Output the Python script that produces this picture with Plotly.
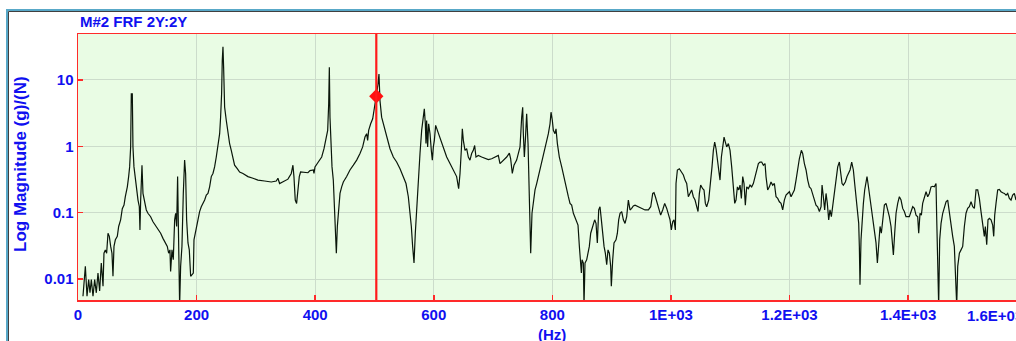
import plotly.graph_objects as go

# ---------------- data ----------------
freq_hz = [
    8.4, 10.1, 12.4, 15.2, 18.0, 20.2, 22.5, 25.3, 28.1, 30.9, 33.7, 36.5, 39.3, 42.2, 43.8, 46.1, 48.3,
    50.6, 52.8, 55.1, 57.3, 59.0, 60.7, 63.0, 66.3, 68.6, 71.9, 74.7, 77.6, 79.8, 83.2, 85.4, 87.1,
    88.8, 89.9, 91.6, 92.7, 94.4, 96.7, 98.9, 101.2, 103.4, 104.5, 105.7, 106.8, 107.9, 109.6, 112.4,
    115.2, 118.0, 122.5, 126.5, 130.4, 134.9, 139.4, 143.3, 147.2, 150.6, 152.9, 155.1, 156.2, 158.5,
    160.7, 163.0, 164.7, 166.4, 168.0, 169.7, 171.4, 173.1, 175.3, 177.6, 179.8, 181.5, 183.2, 185.5,
    187.7, 190.0, 192.2, 194.5, 195.6, 197.8, 200.1, 202.3, 205.1, 207.9, 210.8, 213.6, 216.4, 219.2,
    222.0, 224.8, 227.6, 230.4, 233.2, 236.0, 238.9, 240.5, 242.2, 243.3, 244.5, 245.6, 247.3, 250.1,
    252.9, 255.7, 258.5, 261.3, 264.1, 268.6, 272.6, 278.2, 286.6, 295.1, 303.5, 314.7, 326.0, 334.4,
    337.2, 340.0, 345.6, 354.1, 359.7, 362.5, 364.2, 366.4, 368.7, 370.9, 373.2, 375.4, 382.2, 387.8,
    391.3, 396.9, 398.0, 399.7, 405.3, 411.0, 414.9, 418.3, 421.1, 422.8, 423.9, 425.0, 426.7, 428.4,
    430.6, 432.9, 434.6, 435.7, 437.4, 439.6, 441.9, 444.7, 447.5, 453.1, 458.7, 464.4, 470.0, 475.6,
    480.1, 484.0, 486.8, 488.5, 490.2, 493.6, 497.0, 499.2, 501.5, 503.7, 506.0, 507.6, 509.3, 512.1,
    514.9, 518.3, 521.7, 526.2, 531.8, 537.4, 543.1, 548.7, 553.2, 557.1, 559.9, 562.2, 564.4, 566.7,
    568.9, 571.2, 574.0, 576.8, 579.6, 582.4, 584.1, 585.8, 586.9, 588.0, 589.7, 591.4, 593.7, 595.9,
    597.6, 599.3, 601.0, 603.2, 606.0, 609.4, 613.3, 617.3, 621.8, 627.4, 633.0, 638.6, 642.0, 644.3,
    646.5, 648.2, 649.9, 652.7, 655.5, 658.3, 661.1, 663.9, 666.7, 669.0, 671.2, 675.2, 680.8, 686.4,
    692.0, 697.7, 703.3, 708.9, 711.7, 717.3, 723.0, 727.5, 729.7, 732.5, 735.3, 739.8, 742.6,
    745.5, 748.3, 750.0, 751.1, 752.8, 754.5, 756.7, 759.0, 761.2, 763.5, 765.7, 768.0, 770.8, 773.6,
    776.4, 779.2, 782.0, 784.9, 787.7, 790.5, 793.3, 796.1, 797.8, 800.0, 801.7, 804.5, 806.2, 808.5,
    811.8, 815.8, 818.6, 821.4, 824.2, 827.0, 829.8, 832.6, 835.5, 838.3, 841.1, 843.3, 845.6, 847.8,
    849.0, 850.1, 852.3, 853.4, 855.1, 857.9, 860.2, 862.4, 864.7, 868.1, 871.4, 873.7, 875.9, 878.2,
    880.4, 882.7, 884.9, 887.2, 889.4, 891.7, 893.9, 896.2, 898.4, 899.5, 901.8, 904.0, 907.4, 909.7,
    911.9, 914.2, 917.0, 919.8, 922.6, 925.4, 928.2, 931.0, 933.8, 936.6, 939.5, 945.1, 950.7, 956.3,
    962.0, 965.9, 969.3, 971.5, 973.8, 977.1, 980.5, 982.7, 986.1, 989.5, 992.9, 996.2, 998.5, 1000.7,
    1003.0, 1005.2, 1007.5, 1008.6, 1010.9, 1014.2, 1018.2, 1021.0, 1023.8, 1026.6, 1029.4, 1032.2,
    1035.0, 1037.8, 1040.7, 1043.5, 1045.7, 1048.0, 1050.2, 1053.6, 1055.8, 1058.1, 1060.3, 1063.7,
    1067.1, 1069.3, 1071.6, 1073.8, 1076.1, 1078.3, 1080.6, 1082.8, 1085.1, 1087.3, 1089.6, 1091.8,
    1094.1, 1096.9, 1099.7, 1102.5, 1105.3, 1107.6, 1109.8, 1112.1, 1114.3, 1116.6, 1118.8, 1121.1,
    1123.3, 1125.5, 1127.8, 1130.6, 1133.4, 1136.2, 1139.0, 1141.9, 1144.7, 1147.5, 1150.3, 1153.1,
    1155.9, 1158.7,
    1160.4, 1163.2, 1166.0, 1168.8, 1171.6, 1174.5, 1177.3, 1180.1, 1182.9, 1185.7, 1188.5, 1191.3,
    1194.1, 1197.0, 1199.8, 1202.6, 1205.4, 1208.2, 1211.0, 1213.8, 1216.6, 1220.0, 1222.2, 1225.1,
    1227.9, 1230.7, 1233.5, 1236.3, 1239.1, 1241.9, 1244.7, 1247.5, 1250.4, 1253.2, 1254.9, 1257.1,
    1259.3, 1261.6, 1263.8, 1266.1, 1268.3, 1270.6, 1272.8, 1275.6, 1278.5, 1281.3, 1284.1, 1286.3,
    1288.6, 1290.8, 1294.2, 1297.0, 1299.8, 1302.1, 1304.9, 1307.7, 1309.9, 1312.2, 1314.4, 1316.7,
    1317.8, 1318.9, 1320.6, 1322.3, 1324.6, 1326.8, 1329.1, 1330.7, 1332.4, 1334.7, 1337.5, 1340.3,
    1343.1, 1345.9, 1348.2, 1350.4, 1352.7, 1354.9, 1357.2, 1360.0, 1362.8, 1365.6, 1368.4, 1371.2,
    1374.0, 1375.2, 1377.4, 1379.7, 1382.5, 1385.3, 1388.1, 1390.9, 1393.7, 1396.5, 1402.1, 1407.8,
    1410.6, 1413.4, 1416.2, 1417.9, 1420.1, 1422.4, 1424.6, 1427.5, 1430.3, 1433.1, 1435.9, 1438.7,
    1441.5, 1444.3, 1447.1, 1448.2, 1449.9, 1451.6, 1453.3, 1455.6, 1458.4, 1461.2, 1464.0, 1466.8,
    1469.6, 1472.4, 1475.2, 1478.0, 1479.7, 1482.0, 1483.7, 1486.5, 1489.3, 1492.1, 1494.9, 1497.7,
    1500.5, 1503.3, 1506.2, 1509.0, 1511.8, 1514.6, 1517.4, 1520.2, 1523.0, 1525.8, 1528.6, 1530.3,
    1532.6, 1534.8, 1537.1, 1539.9, 1542.7, 1544.4, 1546.1, 1548.3, 1551.1, 1553.9, 1556.7, 1559.6,
    1562.4, 1565.2, 1568.0, 1570.8, 1573.6, 1576.4, 1579.2, 1582.0,
]

magnitude = [
    0.0055, 0.0098, 0.0155, 0.0055, 0.0098, 0.0062, 0.0098, 0.0055, 0.0098, 0.0062, 0.0123, 0.0066, 0.0174, 0.0078, 0.0245, 0.0275, 0.0245,
    0.049, 0.044, 0.031, 0.0245, 0.011, 0.031, 0.039, 0.044, 0.062, 0.078, 0.115, 0.13, 0.174, 0.245, 0.35, 0.49,
    0.98, 6.2, 6.2, 0.98, 0.49, 0.31, 0.195, 0.155, 0.123, 0.055, 0.155, 0.52, 0.52, 0.195, 0.138,
    0.11, 0.098, 0.087, 0.073, 0.065, 0.055, 0.049, 0.041, 0.035, 0.031, 0.0245, 0.0275, 0.013, 0.0275,
    0.0195, 0.078, 0.098, 0.062, 0.35, 0.0155, 0.004, 0.0155, 0.031, 0.195, 0.62, 0.39, 0.078, 0.035,
    0.0275, 0.011, 0.0116, 0.0123, 0.039, 0.049, 0.062, 0.082, 0.104, 0.123, 0.138, 0.155, 0.184, 0.195,
    0.245, 0.35, 0.39, 0.49, 0.69, 0.98, 1.55, 2.75, 6.2, 19.5, 31.6, 15.5, 3.9, 2.45,
    1.55, 1.1, 0.87, 0.65, 0.52, 0.46, 0.41, 0.39, 0.35, 0.33, 0.31, 0.30, 0.29, 0.30,
    0.33, 0.275, 0.29, 0.32, 0.39, 0.52, 0.35, 0.155, 0.138, 0.22, 0.35, 0.41, 0.40, 0.40,
    0.43, 0.44, 0.39, 0.49, 0.58, 0.69, 0.92, 1.23, 1.74, 4.37, 15.5, 2.75, 1.10, 0.49,
    0.31, 0.123, 0.049, 0.0245, 0.062, 0.123, 0.195, 0.245, 0.29, 0.35, 0.44, 0.52, 0.62, 0.78,
    0.98, 1.38, 1.55, 1.23, 1.74, 2.19, 2.60, 3.47, 4.62, 6.17, 8.7, 12.3, 4.9, 2.75,
    2.19, 1.74, 1.23, 0.92, 0.69, 0.58, 0.46, 0.35, 0.275, 0.174, 0.11, 0.062, 0.031, 0.0174,
    0.049, 0.123, 0.35, 0.78, 1.74, 3.09, 3.67, 2.19, 1.10, 2.45, 0.98, 2.19, 1.55, 0.87,
    0.62, 0.98, 1.23, 2.07, 1.74, 1.38, 1.10, 0.87, 0.69, 0.55, 0.44, 0.35, 0.23, 0.39,
    0.87, 1.84, 1.23, 0.87, 0.92, 0.69, 0.62, 0.78, 0.87, 1.03, 0.69, 0.73, 0.69, 0.65,
    0.63, 0.65, 0.69, 0.73, 0.55, 0.62, 0.69, 0.79, 0.65, 0.39, 0.52, 0.62, 0.78,
    0.98, 2.75, 3.89, 1.55, 0.69, 1.23, 3.09, 1.10, 0.245, 0.0245, 0.098, 0.155, 0.22, 0.275,
    0.35, 0.44, 0.58, 0.78, 0.98, 1.23, 1.55, 2.19, 3.27, 2.45, 1.74, 1.55, 1.84, 1.10,
    0.69, 0.49, 0.37, 0.275, 0.22, 0.174, 0.138, 0.13, 0.098, 0.082, 0.069, 0.065, 0.031, 0.0174,
    0.0123, 0.0195, 0.0174, 0.004, 0.0174, 0.0195, 0.0245, 0.031, 0.049, 0.062, 0.078, 0.069, 0.035, 0.11,
    0.123, 0.078, 0.044, 0.031, 0.0245, 0.0164, 0.0275, 0.0245, 0.0155, 0.0078, 0.0195, 0.035, 0.039, 0.049,
    0.078, 0.098, 0.104, 0.078, 0.069, 0.087, 0.155, 0.11, 0.116, 0.126, 0.13, 0.123, 0.116, 0.11,
    0.11, 0.123, 0.195, 0.20, 0.174, 0.138, 0.104, 0.092, 0.11, 0.138, 0.116, 0.092, 0.078, 0.055,
    0.073, 0.078, 0.055, 0.275, 0.44, 0.46, 0.41, 0.37, 0.31, 0.275, 0.174, 0.195,
    0.22, 0.174, 0.155, 0.123, 0.104, 0.195, 0.26, 0.23, 0.22, 0.138, 0.123, 0.155,
    0.275, 0.49, 0.87, 1.16, 0.92, 0.62, 0.44, 0.31, 0.69, 0.98, 1.38, 1.16,
    0.98, 1.10, 0.87, 0.49, 0.245, 0.138, 0.155, 0.245, 0.22, 0.26, 0.164, 0.35,
    0.275, 0.13, 0.245, 0.23, 0.26, 0.245, 0.275, 0.35, 0.46, 0.55, 0.58, 0.58,
    0.52, 0.55,
    0.35, 0.22, 0.245, 0.29, 0.26, 0.275, 0.174, 0.164, 0.146, 0.138, 0.11, 0.155,
    0.184, 0.195, 0.207, 0.174, 0.195, 0.22, 0.31, 0.49, 0.65, 0.87, 0.78, 0.55,
    0.44, 0.31, 0.245, 0.23, 0.195, 0.155, 0.13, 0.123, 0.104, 0.123, 0.26, 0.174,
    0.11, 0.195, 0.138, 0.078, 0.11, 0.087, 0.123, 0.22, 0.31, 0.49, 0.58, 0.39,
    0.275, 0.26, 0.29, 0.35, 0.39, 0.44, 0.58, 0.44, 0.275, 0.174, 0.11, 0.069,
    0.031, 0.0082, 0.039, 0.078, 0.138, 0.22, 0.31, 0.35, 0.275, 0.195, 0.138, 0.078,
    0.055, 0.035, 0.0174, 0.035, 0.062, 0.049, 0.078, 0.13, 0.138, 0.11, 0.087, 0.062,
    0.031, 0.023, 0.049, 0.098, 0.138, 0.174, 0.155, 0.116, 0.104, 0.087, 0.087, 0.123,
    0.116, 0.092, 0.087, 0.049, 0.098, 0.092, 0.138, 0.164, 0.207, 0.174, 0.195, 0.245,
    0.25, 0.245, 0.275, 0.087, 0.0245, 0.004, 0.039, 0.069, 0.098, 0.123, 0.146, 0.155,
    0.098, 0.069, 0.044, 0.031, 0.0138, 0.004, 0.0155, 0.0245, 0.0275, 0.031, 0.062, 0.098,
    0.116, 0.123, 0.146, 0.123, 0.116, 0.22, 0.22, 0.164, 0.104, 0.062, 0.044, 0.062,
    0.033, 0.078, 0.082, 0.078, 0.065, 0.044, 0.092, 0.138, 0.22, 0.224, 0.207, 0.20,
    0.195, 0.184, 0.195, 0.164, 0.155, 0.184, 0.195, 0.155,
]

x_tick_values = [0, 200, 400, 600, 800, 1000, 1200, 1400]
x_tick_labels = ["0", "200", "400", "600", "800", "1E+03", "1.2E+03", "1.4E+03"]
extra_x_label = "1.6E+03"
y_tick_values = [0.01, 0.1, 1, 10]
y_tick_labels = ["0.01", "0.1", "1", "10"]

cursor_freq = 503.1
cursor_mag = 5.69

title_text = "M#2 FRF 2Y:2Y"
y_title = "Log Magnitude (g)/(N)"
x_title = "(Hz)"

# ---------------- figure ----------------
W, H = 1016, 341
ML, MT, MB, MR = 78, 34, 41, 0
PW, PH = W - ML - MR, H - MT - MB

def px_x(px):
    return (px - ML) / PW

def px_y(py):
    return (H - MB - py) / PH

BLUE = "#1010F0"
RED = "#FF2A2A"
FONT = dict(family="Liberation Sans, Arial, sans-serif", size=15, color=BLUE, weight="bold")
YTITLE_FONT = dict(FONT, size=17)

fig = go.Figure()
fig.add_trace(go.Scatter(
    x=freq_hz, y=magnitude, mode="lines",
    line=dict(color="#0A160A", width=1.2),
    hoverinfo="skip", showlegend=False,
))
fig.add_trace(go.Scatter(
    x=[cursor_freq], y=[cursor_mag], mode="markers",
    marker=dict(symbol="diamond", size=11, color="#FF1010", line=dict(width=0)),
    hoverinfo="skip", showlegend=False,
))

fig.add_shape(type="line", xref="x", yref="paper", x0=cursor_freq, x1=cursor_freq, y0=0, y1=1,
              line=dict(color="#FF1A1A", width=2.2), layer="above")

# outer window frame
fig.add_shape(type="line", xref="paper", yref="paper", x0=px_x(6), x1=px_x(1030), y0=px_y(10), y1=px_y(10),
              line=dict(color="#58A8C8", width=2), layer="above")
fig.add_shape(type="line", xref="paper", yref="paper", x0=px_x(7), x1=px_x(7), y0=px_y(10), y1=px_y(360),
              line=dict(color="#58A8C8", width=2), layer="above")
fig.add_shape(type="line", xref="paper", yref="paper", x0=px_x(8.5), x1=px_x(1030), y0=px_y(11.5), y1=px_y(11.5),
              line=dict(color="#404040", width=1), layer="above")
fig.add_shape(type="line", xref="paper", yref="paper", x0=px_x(8.5), x1=px_x(8.5), y0=px_y(11.5), y1=px_y(360),
              line=dict(color="#404040", width=1), layer="above")

fig.add_annotation(text=title_text, xref="paper", yref="paper", x=0, y=px_y(22),
                   xanchor="left", yanchor="middle", showarrow=False, font=FONT)
fig.add_annotation(text=y_title, xref="paper", yref="paper", x=px_x(20), y=px_y(164),
                   xanchor="center", yanchor="middle", textangle=-90, showarrow=False, font=YTITLE_FONT)
fig.add_annotation(text=x_title, xref="x", yref="paper", x=800, y=px_y(334),
                   xanchor="center", yanchor="middle", showarrow=False, font=FONT)
fig.add_annotation(text=extra_x_label, xref="paper", yref="paper", x=px_x(965), y=px_y(315),
                   xanchor="left", yanchor="middle", showarrow=False, font=FONT)

fig.update_layout(
    width=W, height=H,
    margin=dict(l=ML, r=MR, t=MT, b=MB, pad=0),
    paper_bgcolor="white", plot_bgcolor="#E9FCE4",
    showlegend=False,
    xaxis=dict(
        range=[0, 1582], tickvals=x_tick_values, ticktext=x_tick_labels,
        showgrid=True, gridcolor="#CCDCCB", gridwidth=1, zeroline=False,
        showline=True, linecolor=RED, linewidth=1.5, mirror=True,
        ticks="inside", ticklen=5, tickcolor=RED, tickwidth=1.5,
        tickfont=FONT, fixedrange=True,
    ),
    yaxis=dict(
        type="log", range=[-2.316, 1.693], tickvals=y_tick_values, ticktext=y_tick_labels,
        showgrid=True, gridcolor="#CCDCCB", gridwidth=1, zeroline=False,
        showline=True, linecolor=RED, linewidth=1.5, mirror=False,
        ticks="inside", ticklen=5, tickcolor=RED, tickwidth=1.5,
        tickfont=FONT, fixedrange=True,
    ),
)

fig.write_html("out.html", config={"displayModeBar": False, "staticPlot": True})
